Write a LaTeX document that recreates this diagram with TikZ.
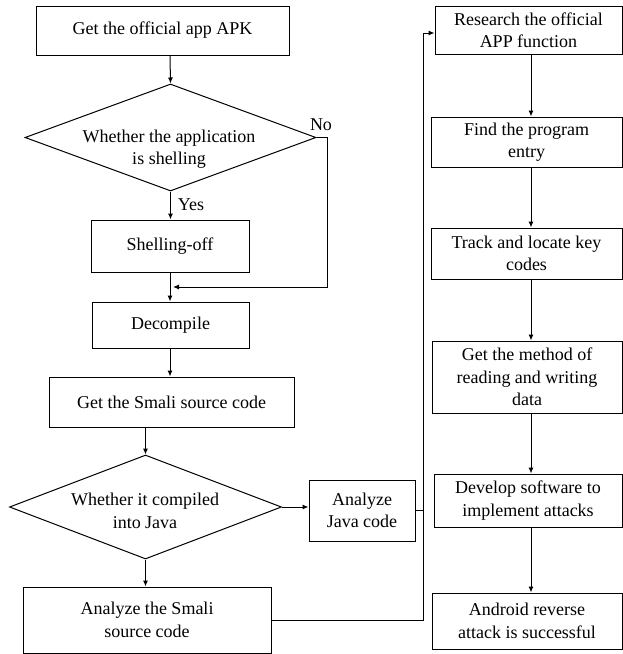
\documentclass[tikz,border=0pt]{standalone}
\usepackage{fontspec}
\setmainfont{Liberation Serif}
\usetikzlibrary{shapes.geometric,arrows.meta,calc}
\begin{document}
\begin{tikzpicture}[x=1pt,y=-1pt,
  box/.style={draw, line width=1pt, inner sep=0pt, align=center, font=\fontsize{18}{22.5}\selectfont},
  dia/.style={draw, diamond, line width=1pt, inner sep=0pt},
  txt/.style={align=center, font=\fontsize{18}{22.5}\selectfont, inner sep=0pt},
  arr/.style={line width=1pt, -{Latex[length=6pt,width=5pt]}},
  ln/.style={line width=1pt}]
\useasboundingbox (0,0) rectangle (623,654);
% left column
\node[box, minimum width=253, minimum height=49] (b1) at (162.5,30.5) {Get the official app APK};
\node[dia, minimum width=291, minimum height=107] (d1) at (170.5,137.5) {};
\node[txt] (t1) at (169,149) {Whether the application\\is shelling};
\node[box, minimum width=158, minimum height=52] (b2) at (170,246) {Shelling-off};
\node[box, minimum width=157, minimum height=46] (b3) at (170.5,325) {Decompile};
\node[box, minimum width=245, minimum height=50] (b4) at (171.5,402) {Get the Smali source code};
\node[dia, minimum width=272, minimum height=104] (d2) at (145.5,507) {};
\node[txt] (t2) at (145,511) {Whether it compiled\\into Java};
\node[box, minimum width=106, minimum height=61] (b5) at (362,510.5) {Analyze\\Java code};
\node[box, minimum width=248, minimum height=66] (b6) at (147,620) {Analyze the Smali\\source code};
% right column
\node[box, minimum width=187, minimum height=48] (r1) at (528.5,30) {Research the official\\APP function};
\node[box, minimum width=191, minimum height=50] (r2) at (526.5,142) {Find the program\\entry};
\node[box, minimum width=191, minimum height=51] (r3) at (526.5,253.5) {Track and locate key\\codes};
\node[box, minimum width=190, minimum height=72] (r4) at (527,377) {Get the method of\\reading and writing\\data};
\node[box, minimum width=188, minimum height=53] (r5) at (528,500.5) {Develop software to\\implement attacks};
\node[box, minimum width=190, minimum height=56] (r6) at (527,621) {Android reverse\\attack is successful};
% labels
\node[txt] (yes) at (191,205) {Yes};
\node[txt] (no) at (321,125) {No};
% helper coordinates
\coordinate (lc) at (170,0);
\coordinate (rc) at (531,0);
\coordinate (nox) at (327,287);
\coordinate (noend) at (173,287);
\coordinate (bus) at (423,33);
% connectors left
\draw[arr] (b1.south -| lc) -- (d1.north);
\draw[arr] (d1.south) -- (b2.north -| d1.south);
\draw[arr] (b2.south) -- (b3.north -| b2.south);
\draw[arr] (d1.east) -- (d1.east -| nox) -- (nox) -- (noend);
\draw[arr] (b3.south -| lc) -- (b4.north -| lc);
\draw[arr] (b4.south -| d2.north) -- (d2.north);
\draw[arr] (d2.east) -- (b5.west |- d2.east);
\draw[arr] (d2.south) -- (b6.north -| d2.south);
\draw[ln] (b5.east) -- (b5.east -| bus);
\draw[arr] (b6.east) -- (bus |- b6.east) -- (bus) -- (r1.west |- bus);
% connectors right
\draw[arr] (r1.south -| rc) -- (r2.north -| rc);
\draw[arr] (r2.south -| rc) -- (r3.north -| rc);
\draw[arr] (r3.south -| rc) -- (r4.north -| rc);
\draw[arr] (r4.south -| rc) -- (r5.north -| rc);
\draw[arr] (r5.south -| rc) -- (r6.north -| rc);
\end{tikzpicture}
\end{document}
